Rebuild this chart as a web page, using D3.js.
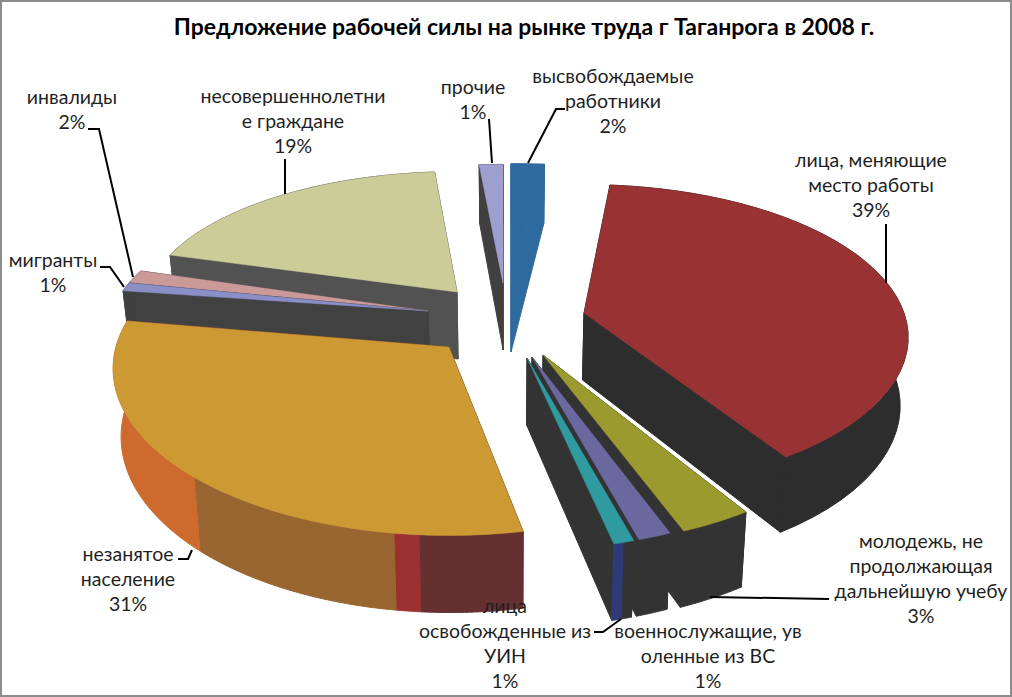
<!DOCTYPE html>
<html>
<head>
<meta charset="utf-8">
<script src="https://cdn.jsdelivr.net/npm/d3@7"></script>
<style>
  html, body { margin: 0; padding: 0; background: #fff; }
  svg { display: block; }
  text { font-family: Lato, "Open Sans", sans-serif; }
</style>
</head>
<body>
<svg id="chart"></svg>
<script>
const width = 1012, height = 697;

const title = "Предложение рабочей силы на рынке труда г Таганрога в 2008 г.";

// slice order runs clockwise from 12 o'clock
const categories = [
  "высвобождаемые работники",
  "лица, меняющие место работы",
  "молодежь, не продолжающая дальнейшую учебу",
  "военнослужащие, уволенные из ВС",
  "лица освобожденные из УИН",
  "незанятое население",
  "мигранты",
  "инвалиды",
  "несовершеннолетние граждане",
  "прочие",
];
const shares = [1.5, 39.3, 3.1, 1.45, 0.9, 30.7, 1.0, 1.6, 19.15, 1.3];
const labelLines = [
  ["высвобождаемые", "работники"],
  ["лица, меняющие", "место работы"],
  ["молодежь, не", "продолжающая", "дальнейшую учебу"],
  ["военнослужащие, ув", "оленные из ВС"],
  ["лица", "освобожденные из", "УИН"],
  ["незанятое", "население"],
  ["мигранты"],
  ["инвалиды"],
  ["несовершеннолетни", "е граждане"],
  ["прочие"],
];
const topColors = ["#2f6a9f", "#993333", "#9a9a2e", "#6a689f", "#2f9a9f",
                   "#cc9933", "#8a8fc8", "#cc9999", "#cccc99", "#9f9fcf"];
const wallColors = ["#2f6a9f", "#2d2d2d", "#333333", "#333333", "#333333",
                    "#653030", "#414141", "#414141", "#525252", "#404040"];

// where each slice was dragged to, and how wide/deep it is drawn
const sliceX = [511, 584, 543, 532, 527, 449, 428, 428, 457, 503];
const sliceY = [285, 313, 355, 357, 358, 347, 311, 311, 292, 283];
const radiusX = [402, 320, 331, 325, 325, 333, 315, 315, 310, 330];
const radiusY = [137, 149, 167, 167, 167, 164, 132, 132, 136, 134];
const sliceTurn = [0, 0, 0, 0, 0, 2.3, 2, 2, 0, 0]; // degrees
const slicePersp = [0.13, 0.16, 0.13, 0.13, 0.13, 0.13, 0.13, 0.13, 0.13, 0.13];

// outer wall of some slices shows other colours (degrees from 12 o'clock)
const wallBands = {
  4: [[0, 165, "#333333"], [165, 360, "#2f3a78"]],
  5: [[0, 184.5, "#653030"], [184.5, 188.3, "#9a3030"], [188.3, 224, "#996530"], [224, 360, "#cf6a2e"]],
};

const labelX = [613, 871, 921, 708, 505, 128, 53, 72, 293, 473];
const labelY = [77, 161, 542, 632, 607, 555, 261, 98, 97, 88];
const leaders = [
  [[565, 109], [556, 109], [528, 163]],
  [[886, 224], [886, 283]],
  [[829, 599], [710, 597]],
  null,
  [[594, 632], [603, 632], [621, 619]],
  [[178, 559], [188, 559], [192, 550]],
  [[100, 267], [110, 267], [124, 287]],
  [[88, 129], [99, 129], [133, 277]],
  [[285, 159], [285, 194]],
  [[489, 119], [492, 163]],
];

const wallHeight = 67, wallPersp = 0.13, converge = 0.02, vanishX = 510;

const svg = d3.select("#chart").attr("width", width).attr("height", height);

svg.append("rect")
  .attr("x", 1).attr("y", 1)
  .attr("width", width - 2).attr("height", height - 2)
  .attr("fill", "#fff").attr("stroke", "#8c8c8c").attr("stroke-width", 2);

const slices = d3.pie().sort(null).value((d) => d)(shares);

const rad = (deg) => (deg * Math.PI) / 180;

// a point of slice i: a = angle, r = 0..1 radius, z = 0 top face, 1 bottom
function project(i, a, r, z) {
  const s = 1 / (1 + slicePersp[i] * Math.cos(a) * r);
  const sw = 1 / (1 + wallPersp * Math.cos(a) * r);
  const px = sliceX[i] + radiusX[i] * r * Math.sin(a) * s;
  const py = sliceY[i] - radiusY[i] * r * Math.cos(a) * s + wallHeight * z * sw;
  return [vanishX + (px - vanishX) * (1 - converge * z), py];
}

const line = d3.line();
const arcSteps = (a0, a1) => d3.range(0, 41).map((k) => a0 + ((a1 - a0) * k) / 40);

function outerWall(g, i, a0, a1, color) {
  const steps = arcSteps(a0, a1);
  const pts = steps.map((a) => project(i, a, 1, 0))
    .concat(steps.slice().reverse().map((a) => project(i, a, 1, 1)));
  g.append("path").attr("d", line(pts) + "Z").attr("fill", color).attr("stroke", color).attr("stroke-width", 1);
}

function radialWall(g, i, a, color) {
  const pts = [project(i, a, 0, 0), project(i, a, 1, 0), project(i, a, 1, 1), project(i, a, 0, 1)];
  g.append("path").attr("d", line(pts) + "Z").attr("fill", color).attr("stroke", color).attr("stroke-width", 1);
}

// painter's order, back to front
const drawOrder = [0, 9, 1, 8, 7, 6, 5, 2, 3, 4];

const pieGroup = svg.append("g").attr("class", "pie");
drawOrder.forEach((i) => {
  const d = slices[i];
  const start = d.startAngle + rad(sliceTurn[i]);
  const end = d.endAngle + rad(sliceTurn[i]);
  const g = pieGroup.append("g");
  radialWall(g, i, start, wallColors[i]);
  radialWall(g, i, end, wallColors[i]);
  if (wallBands[i]) {
    wallBands[i].forEach(([from, to, color]) => {
      const a0 = Math.max(start, rad(from));
      const a1 = Math.min(end, rad(to));
      if (a1 > a0) outerWall(g, i, a0, a1, color);
    });
  } else {
    outerWall(g, i, start, end, wallColors[i]);
  }
  const face = [project(i, 0, 0, 0)].concat(arcSteps(start, end).map((a) => project(i, a, 1, 0)));
  g.append("path").attr("d", line(face) + "Z").attr("fill", topColors[i]).attr("stroke", topColors[i]).attr("stroke-width", 0.5);
});

// leader lines
svg.append("g").selectAll("path")
  .data(leaders.filter((d) => d))
  .enter()
  .append("path")
  .attr("d", (d) => line(d))
  .attr("fill", "none")
  .attr("stroke", "#000")
  .attr("stroke-width", 2);

// data labels
const pct = d3.format(".0f");
const labels = svg.append("g").attr("font-size", 19.5).attr("fill", "#1f1f1f").attr("text-anchor", "middle");
shares.forEach((v, i) => {
  const lines = labelLines[i].concat(pct(v) + "%");
  lines.forEach((t, k) => {
    labels.append("text")
      .attr("x", labelX[i])
      .attr("y", labelY[i] + k * 25 + 6)
      .text(t);
  });
});

svg.append("text")
  .attr("x", 524)
  .attr("y", 35)
  .attr("text-anchor", "middle")
  .attr("font-size", 23)
  .attr("font-weight", 700)
  .attr("fill", "#000")
  .text(title);
</script>
</body>
</html>
